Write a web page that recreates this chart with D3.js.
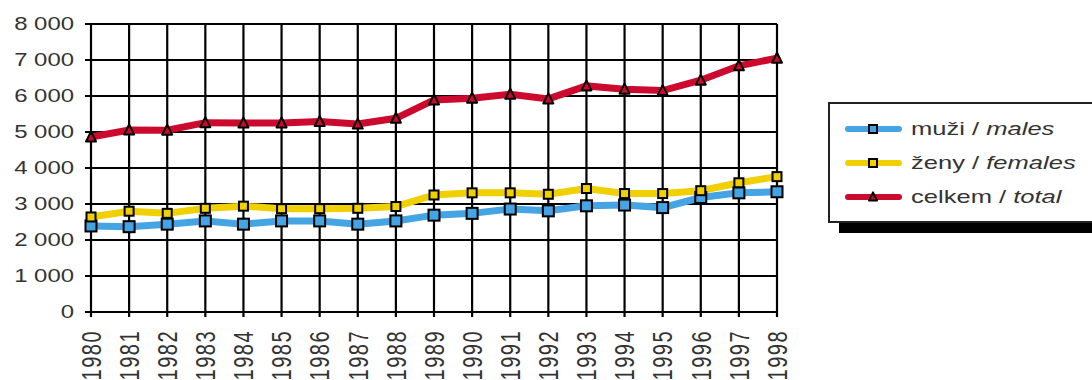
<!DOCTYPE html>
<html lang="cs">
<head>
<meta charset="UTF-8">
<title>muži / ženy / celkem 1980–1998</title>
<script src="https://cdn.jsdelivr.net/npm/d3@7"></script>
<style>
  body { margin: 0; background: #fff; overflow: hidden; }
  svg { display: block; font-family: 'Liberation Sans', Arial, sans-serif; }
</style>
</head>
<body>
<svg id="chart" width="1092" height="380"></svg>
<script>
// data
const years = ["1980","1981","1982","1983","1984","1985","1986","1987","1988","1989",
               "1990","1991","1992","1993","1994","1995","1996","1997","1998"];
const males   = [2390, 2370, 2440, 2530, 2440, 2530, 2530, 2440, 2530, 2690,
                 2740, 2860, 2810, 2950, 2970, 2900, 3180, 3310, 3340];
const females = [2640, 2800, 2740, 2880, 2940, 2870, 2870, 2880, 2930, 3250,
                 3310, 3310, 3270, 3430, 3290, 3290, 3370, 3590, 3760];
const total   = [4860, 5055, 5050, 5260, 5250, 5250, 5290, 5220, 5380, 5890,
                 5940, 6050, 5920, 6280, 6190, 6150, 6440, 6840, 7050];
const yTicks = [0, 1000, 2000, 3000, 4000, 5000, 6000, 7000, 8000];

const series = [
  { cz: "muži", en: "males",   values: males,   color: "#45a4e4", marker: "square", size: 11 },
  { cz: "ženy", en: "females", values: females, color: "#f0d000", marker: "square", size: 9 },
  { cz: "celkem", en: "total", values: total,   color: "#cc0a2e", marker: "triangle", size: 10 }
];

const svg = d3.select("#chart");
const x = d3.scalePoint().domain(years).range([91, 777]);
const y = d3.scaleLinear().domain([0, 8000]).range([312, 24]);
const stretch = 1.33; // text in the source looks wider than normal

// grid
svg.append("g").selectAll("line.h").data(yTicks).enter().append("line")
  .attr("x1", 85).attr("x2", 777)
  .attr("y1", d => y(d)).attr("y2", d => y(d))
  .attr("stroke", "#000").attr("stroke-width", 2.2);
svg.append("g").selectAll("line.v").data(years).enter().append("line")
  .attr("x1", d => x(d)).attr("x2", d => x(d))
  .attr("y1", y(8000)).attr("y2", 317)
  .attr("stroke", "#000").attr("stroke-width", 2.2);

// y labels
svg.append("g").selectAll("text").data(yTicks).enter().append("text")
  .attr("transform", d => `translate(74,${y(d)}) scale(${stretch},1)`)
  .attr("text-anchor", "end").attr("dy", "0.35em")
  .attr("font-size", 18).attr("fill", "#333")
  .text(d => d3.format(",")(d).replace(/,/g, " "));

// x labels, rotated
svg.append("g").selectAll("text").data(years).enter().append("text")
  .attr("transform", d => `translate(${x(d)},330) scale(1.4,1) rotate(-90)`)
  .attr("text-anchor", "end").attr("dy", "0.35em")
  .attr("font-size", 20).attr("letter-spacing", 1.5).attr("fill", "#333")
  .text(d => d);

const line = d3.line().x((d, i) => x(years[i])).y(d => y(d));

function drawMarker(g, type, size, color) {
  if (type === "square") {
    g.append("rect").attr("x", -size / 2).attr("y", -size / 2)
      .attr("width", size).attr("height", size)
      .attr("fill", color).attr("stroke", "#000").attr("stroke-width", 2);
  } else {
    const h = size * 0.9;
    g.append("path").attr("d", `M0,${-h / 2 - 1}L${size / 2},${h / 2}L${-size / 2},${h / 2}Z`)
      .attr("fill", color).attr("stroke", "#000").attr("stroke-width", 2)
      .attr("stroke-linejoin", "round");
  }
}

series.forEach(s => {
  svg.append("path").datum(s.values)
    .attr("d", line).attr("fill", "none")
    .attr("stroke", s.color).attr("stroke-width", 7);
});
series.forEach(s => {
  svg.append("g").selectAll("g").data(s.values).enter().append("g")
    .attr("transform", (d, i) => `translate(${x(years[i])},${y(d)})`)
    .each(function () { drawMarker(d3.select(this), s.marker, s.size, s.color); });
});

// legend
const lg = svg.append("g");
lg.append("rect").attr("x", 839).attr("y", 113).attr("width", 280).attr("height", 120).attr("fill", "#000");
lg.append("rect").attr("x", 829).attr("y", 103).attr("width", 280).attr("height", 119)
  .attr("fill", "#fff").attr("stroke", "#222").attr("stroke-width", 2);
const itemY = [129, 163, 197];
series.forEach((s, i) => {
  const it = lg.append("g").attr("transform", `translate(0,${itemY[i]})`);
  it.append("line").attr("x1", 848).attr("x2", 899).attr("y1", 0).attr("y2", 0)
    .attr("stroke", s.color).attr("stroke-width", 6).attr("stroke-linecap", "round");
  const m = it.append("g").attr("transform", "translate(873,0)");
  drawMarker(m, s.marker, 8, s.color);
  const t = it.append("text")
    .attr("transform", `translate(911,0) scale(1.42,1)`)
    .attr("dy", "0.35em").attr("font-size", 18).attr("fill", "#333");
  t.append("tspan").text(s.cz + " / ");
  t.append("tspan").attr("font-style", "italic").text(s.en);
});
</script>
</body>
</html>
